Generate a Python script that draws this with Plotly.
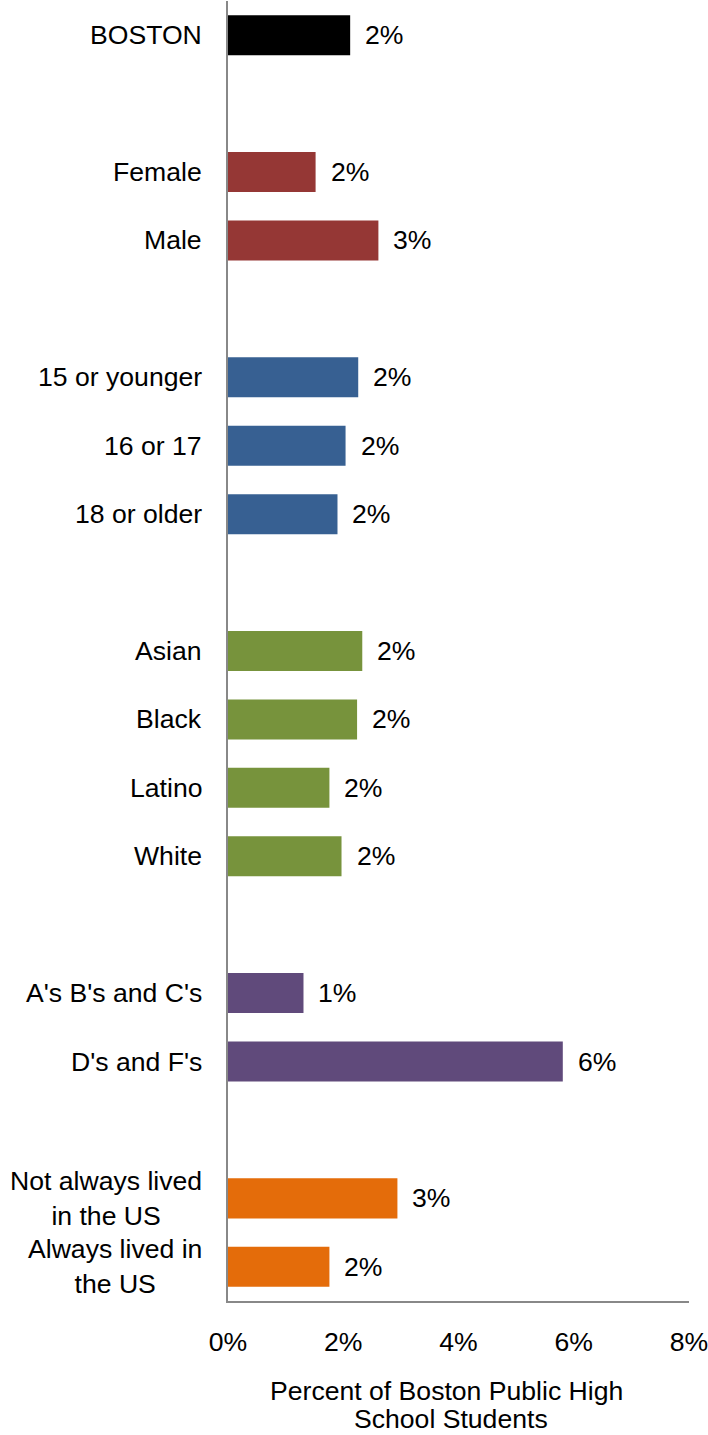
import plotly.graph_objects as go

# Share of students, in percent, by subgroup
categories = [
    "BOSTON",
    "Female", "Male",
    "15 or younger", "16 or 17", "18 or older",
    "Asian", "Black", "Latino", "White",
    "A's B's and C's", "D's and F's",
    "Not always lived<br>in the US", "Always lived in<br>the US",
]
values = [2.12, 1.52, 2.61, 2.26, 2.04, 1.90, 2.33, 2.24, 1.76, 1.97, 1.31, 5.81, 2.94, 1.76]
groups = [0, 1, 1, 2, 2, 2, 3, 3, 3, 3, 4, 4, 5, 5]
group_colors = ["#000000", "#953735", "#376092", "#77933C", "#604A7B", "#E46C0A"]

x_tickvals = [0, 2, 4, 6, 8]
x_ticktext = ["0%", "2%", "4%", "6%", "8%"]
x_title_lines = ["Percent of Boston Public High", "School Students"]

FONT = "Liberation Sans, Arial, sans-serif"
FS = 26.6

# one empty row between consecutive groups
positions = [i + g for i, g in enumerate(groups)]
n_rows = positions[-1] + 1

fig = go.Figure(
    go.Bar(
        x=values,
        y=positions,
        orientation="h",
        width=0.585,
        marker=dict(color=[group_colors[g] for g in groups], line_width=0),
        hoverinfo="skip",
    )
)

annotations = []
# category labels, right-aligned against the axis, lines centred
for label, pos in zip(categories, positions):
    annotations.append(dict(
        x=0, y=pos, xref="x", yref="y",
        text=label, showarrow=False,
        xanchor="right", yanchor="middle", align="center",
        xshift=-24, font=dict(family=FONT, size=FS, color="#000000"),
    ))
# value labels at the end of each bar
for v, pos in zip(values, positions):
    annotations.append(dict(
        x=v, y=pos, xref="x", yref="y",
        text=f"{v:.0f}%", showarrow=False,
        xanchor="left", yanchor="middle",
        xshift=13, font=dict(family=FONT, size=FS, color="#000000"),
    ))
# axis title, one annotation per line for tighter leading
for line, xp, yp in zip(x_title_lines, [0.4735, 0.4832], [-0.0692, -0.0908]):
    annotations.append(dict(
        x=xp, y=yp, xref="paper", yref="paper",
        text=line, showarrow=False,
        xanchor="center", yanchor="middle", borderpad=0, borderwidth=0,
        font=dict(family=FONT, size=FS, color="#000000"),
    ))

fig.update_layout(
    width=708,
    height=1435,
    margin=dict(l=227.5, r=19, t=1, b=134, pad=0),
    paper_bgcolor="#ffffff",
    plot_bgcolor="#ffffff",
    showlegend=False,
    font=dict(family=FONT, size=FS, color="#000000"),
    annotations=annotations,
    xaxis=dict(
        range=[0, 8],
        tickvals=x_tickvals,
        ticktext=x_ticktext,
        ticks="outside",
        ticklen=16,
        tickcolor="rgba(0,0,0,0)",
        ticklabeloverflow="allow",
        showgrid=False,
        zeroline=False,
        showline=True,
        linecolor="#888888",
        linewidth=1.5,
        tickfont=dict(family=FONT, size=FS, color="#000000"),
        fixedrange=True,
    ),
    yaxis=dict(
        range=[n_rows - 0.5, -0.5],
        showticklabels=False,
        ticks="",
        showgrid=False,
        zeroline=False,
        showline=True,
        linecolor="#888888",
        linewidth=1.5,
        fixedrange=True,
    ),
)

fig.write_html("out.html", config={"displayModeBar": False})
